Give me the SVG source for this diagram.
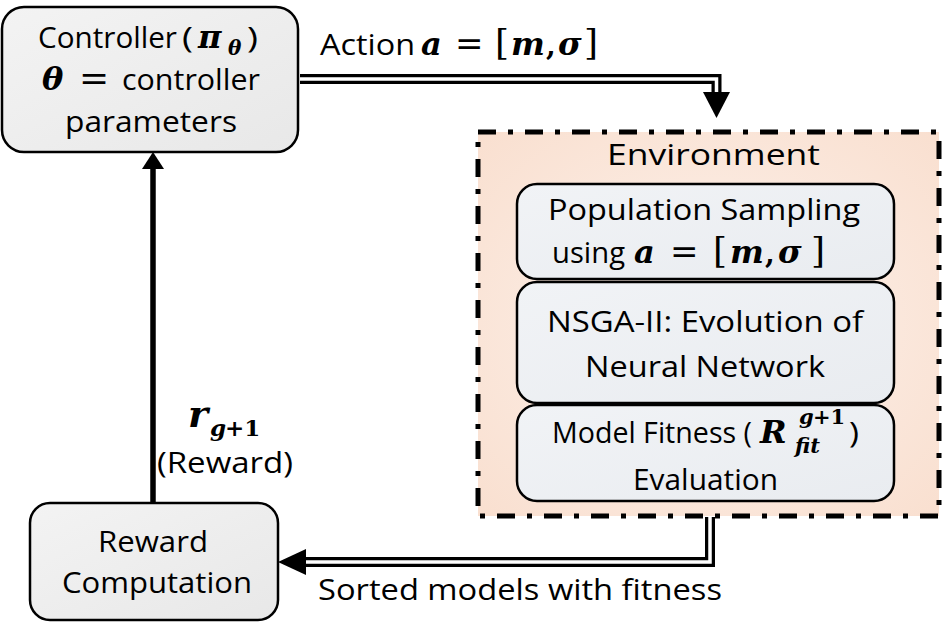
<svg xmlns="http://www.w3.org/2000/svg" width="944" height="634" viewBox="0 0 944 634">
<defs>
  <linearGradient id="gGrey" x1="0" y1="0" x2="1" y2="1">
    <stop offset="0" stop-color="#f3f3f3"/>
    <stop offset="1" stop-color="#e8e8e8"/>
  </linearGradient>
  <linearGradient id="gBlue" x1="0" y1="0" x2="1" y2="1">
    <stop offset="0" stop-color="#f1f3f6"/>
    <stop offset="1" stop-color="#e9ecf0"/>
  </linearGradient>
  <radialGradient id="gEnv" cx="0.5" cy="0.5" r="0.72">
    <stop offset="0" stop-color="#fdf2ec"/>
    <stop offset="1" stop-color="#f9dfcf"/>
  </radialGradient>
  <style>
    .box{stroke:#000;stroke-width:2.5}
    .t{font-family:"Open Sans","Liberation Sans",sans-serif;font-size:30px;fill:#000}
    .m{font-family:"DejaVu Serif","Liberation Serif",serif;font-weight:bold;font-style:italic;fill:#000}
    .b{font-family:"DejaVu Serif","Liberation Serif",serif;font-weight:bold;fill:#000}
    .u{font-family:"DejaVu Serif","Liberation Serif",serif;fill:#000}
    .dbl{fill:none;stroke:#000;stroke-width:10;stroke-linejoin:miter}
    .dblw{fill:none;stroke:#fff;stroke-width:3.5;stroke-linejoin:miter}
  </style>
</defs>
<rect width="944" height="634" fill="#fff"/>

<g id="connectors">
  <path class="dbl" d="M300,79 H716.5 V94"/>
  <path class="dblw" d="M299,79 H716.5 V94"/>
  <polygon points="703,92 730,92 716.5,118" fill="#000"/>

  <path class="dbl" d="M710,517 V562 H303"/>
  <path class="dblw" d="M710,517 V562 H303"/>
  <polygon points="306,549 306,575 278,562" fill="#000"/>

  <line x1="153" y1="504" x2="153" y2="166" stroke="#000" stroke-width="5.5"/>
  <polygon points="142,169 164,169 153,152" fill="#000"/>
</g>

<g id="controller">
  <rect class="box" x="2" y="7" width="296" height="145" rx="22" fill="url(#gGrey)"/>
  <text class="t" x="38" y="48" textLength="139" lengthAdjust="spacingAndGlyphs">Controller</text>
  <text class="t" x="182" y="48" textLength="11" lengthAdjust="spacingAndGlyphs">(</text>
  <text class="m" x="198" y="48" font-size="32">π</text>
  <text class="m" x="228" y="55" font-size="20">θ</text>
  <text class="t" x="247" y="48" textLength="11" lengthAdjust="spacingAndGlyphs">)</text>
  <text class="m" x="42" y="90" font-size="32">θ</text>
  <text class="u" x="79" y="90" font-size="36">=</text>
  <text class="t" x="122" y="90" textLength="138" lengthAdjust="spacingAndGlyphs">controller</text>
  <text class="t" x="65" y="132" textLength="172" lengthAdjust="spacingAndGlyphs">parameters</text>
</g>

<g id="action-label">
  <text class="t" x="320" y="55" textLength="95" lengthAdjust="spacingAndGlyphs">Action</text>
  <text class="m" x="421" y="55" font-size="32">a</text>
  <text class="u" x="455" y="55" font-size="34">=</text>
  <text class="u" x="495" y="55" font-size="36">[</text>
  <text class="m" x="511" y="55" font-size="32">m</text>
  <text class="b" x="546" y="55" font-size="28">,</text>
  <text class="m" x="558" y="55" font-size="32">σ</text>
  <text class="u" x="584" y="55" font-size="36">]</text>
</g>

<g id="environment">
  <rect x="478" y="132" width="461" height="384" fill="url(#gEnv)" stroke="#000" stroke-width="5" stroke-dasharray="18 12 5 12"/>
  <text class="t" x="607" y="165" textLength="213" lengthAdjust="spacingAndGlyphs">Environment</text>
</g>

<g id="population-sampling">
  <rect class="box" x="517" y="184" width="377" height="95" rx="20" fill="url(#gBlue)"/>
  <text class="t" x="548" y="220" textLength="312" lengthAdjust="spacingAndGlyphs">Population Sampling</text>
  <text class="t" x="552" y="263" textLength="73" lengthAdjust="spacingAndGlyphs">using</text>
  <text class="m" x="634" y="263" font-size="32">a</text>
  <text class="u" x="670" y="263" font-size="34">=</text>
  <text class="u" x="713" y="263" font-size="36">[</text>
  <text class="m" x="730" y="263" font-size="32">m</text>
  <text class="b" x="765" y="263" font-size="28">,</text>
  <text class="m" x="778" y="263" font-size="32">σ</text>
  <text class="u" x="811" y="263" font-size="36">]</text>
</g>

<g id="nsga">
  <rect class="box" x="517" y="282" width="377" height="121" rx="20" fill="url(#gBlue)"/>
  <text class="t" x="547" y="332" textLength="316" lengthAdjust="spacingAndGlyphs">NSGA-II: Evolution of</text>
  <text class="t" x="585" y="377" textLength="240" lengthAdjust="spacingAndGlyphs">Neural Network</text>
</g>

<g id="fitness">
  <rect class="box" x="517" y="405" width="377" height="96" rx="20" fill="url(#gBlue)"/>
  <text class="t" x="552" y="443" textLength="200" lengthAdjust="spacingAndGlyphs">Model Fitness (</text>
  <text class="m" x="760" y="443" font-size="32">R</text>
  <text class="m" x="799" y="424" font-size="21">g</text>
  <text class="b" x="813" y="424" font-size="21">+1</text>
  <text class="m" x="795" y="453" font-size="21">fit</text>
  <text class="t" x="849" y="443" textLength="10" lengthAdjust="spacingAndGlyphs">)</text>
  <text class="t" x="633" y="490" textLength="145" lengthAdjust="spacingAndGlyphs">Evaluation</text>
</g>

<g id="reward-computation">
  <rect class="box" x="30" y="503" width="248" height="117" rx="20" fill="url(#gGrey)"/>
  <text class="t" x="98" y="552" textLength="110" lengthAdjust="spacingAndGlyphs">Reward</text>
  <text class="t" x="62" y="593" textLength="190" lengthAdjust="spacingAndGlyphs">Computation</text>
</g>

<g id="reward-label">
  <text class="m" x="188" y="427" font-size="38">r</text>
  <text class="m" x="210" y="436" font-size="23">g</text>
  <text class="b" x="225" y="436" font-size="23">+1</text>
  <text class="t" x="157" y="473" textLength="136" lengthAdjust="spacingAndGlyphs">(Reward)</text>
</g>

<g id="sorted-label">
  <text class="t" x="318" y="600" textLength="404" lengthAdjust="spacingAndGlyphs">Sorted models with fitness</text>
</g>
</svg>
